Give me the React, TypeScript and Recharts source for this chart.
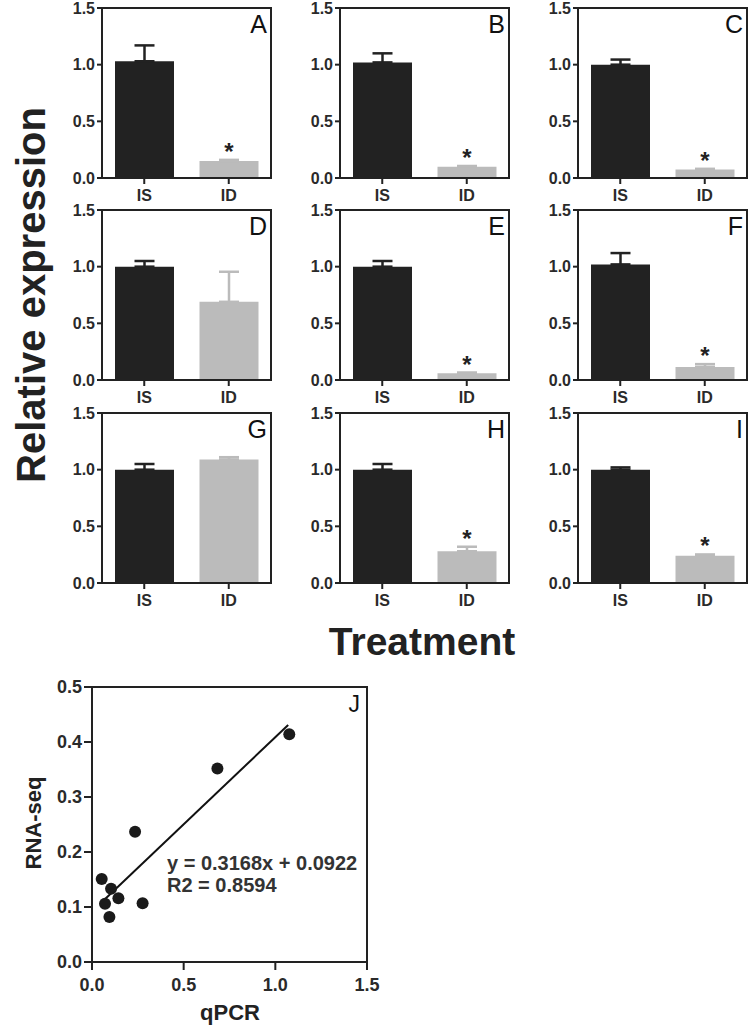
import React from 'react';
import {
  BarChart,
  Bar,
  XAxis,
  YAxis,
  ErrorBar,
  LabelList,
  ScatterChart,
  Scatter,
  ReferenceLine,
  ReferenceArea,
} from 'recharts';

// ---------- Data: panels A–I (relative expression) ----------
const panelLetters = ['A', 'B', 'C', 'D', 'E', 'F', 'G', 'H', 'I'];
const categories = ['IS', 'ID'];
const isMeans = [1.03, 1.02, 1.0, 1.0, 1.0, 1.02, 1.0, 1.0, 1.0];
const isErrors = [0.14, 0.08, 0.045, 0.05, 0.05, 0.1, 0.05, 0.05, 0.02];
const idMeans = [0.15, 0.1, 0.075, 0.69, 0.06, 0.115, 1.09, 0.28, 0.24];
const idErrors = [0.01, 0.006, 0.006, 0.265, 0.006, 0.025, 0.02, 0.04, 0.012];
const significant = [true, true, true, false, true, true, false, true, true];
const barTicks = [0, 0.5, 1.0, 1.5];

// ---------- Data: panel J (qPCR vs RNA-seq) ----------
const qpcrValues = [1.076, 0.684, 0.235, 0.053, 0.104, 0.144, 0.071, 0.276, 0.095];
const rnaseqValues = [0.414, 0.352, 0.237, 0.151, 0.133, 0.116, 0.106, 0.107, 0.082];
const fitLine = [
  { x: 0.07, y: 0.114 },
  { x: 1.07, y: 0.431 },
];
const scatterXTicks = [0, 0.5, 1.0, 1.5];
const scatterYTicks = [0, 0.1, 0.2, 0.3, 0.4, 0.5];
const equationText = 'y = 0.3168x + 0.0922';
const r2Text = 'R2 = 0.8594';

// ---------- Layout ----------
const FONT = "'Liberation Sans', Arial, Helvetica, sans-serif";
const colLefts = [102, 340, 578];
const rowTops = [8, 210, 413];
const letterBaselines = [33, 235, 438];
const plotW = 169;
const plotH = 170;
const AX = '#222';
const DARK = '#222222';
const GREY = '#bbbbbb';

const axisLineStyle = { stroke: AX, strokeWidth: 2 };
const barTickStyle = { fill: '#2a2a2a', fontSize: 16, fontWeight: 'bold', fontFamily: FONT };

function StarLabel(props: any) {
  const { x, y, width, value } = props;
  if (!value) return null;
  return (
    <text
      x={x + width / 2}
      y={y}
      textAnchor="middle"
      fontSize={24}
      fontWeight="bold"
      fontFamily={FONT}
      fill="#222"
    >
      {value}
    </text>
  );
}

function BarPanel({ i }: { i: number }) {
  const data = [
    { cat: categories[0], is: isMeans[i], isErr: [0, isErrors[i]] },
    {
      cat: categories[1],
      id: idMeans[i],
      idErr: [0, idErrors[i]],
      pad: idErrors[i],
      star: significant[i] ? '*' : undefined,
    },
  ];
  const col = i % 3;
  const row = Math.floor(i / 3);
  const left = colLefts[col] - 60;
  const top = rowTops[row] - 10;
  return (
    <div style={{ position: 'absolute', left, top, width: plotW + 70, height: plotH + 45 }}>
      <BarChart
        width={plotW + 70}
        height={plotH + 45}
        data={data}
        margin={{ top: 10, right: 10, bottom: 0, left: 0 }}
        barSize={59}
      >
        <XAxis
          dataKey="cat"
          height={35}
          axisLine={axisLineStyle}
          tickLine={axisLineStyle}
          tickSize={6}
          tickMargin={6}
          tick={barTickStyle}
          interval={0}
        />
        <YAxis
          domain={[0, 1.5]}
          ticks={barTicks}
          width={60}
          axisLine={axisLineStyle}
          tickLine={axisLineStyle}
          tickSize={5}
          tickMargin={2}
          tick={barTickStyle}
          tickFormatter={(v: number) => v.toFixed(1)}
          interval={0}
        />
        <ReferenceArea y1={0} y2={1.5} fill="none" stroke={AX} strokeWidth={2} ifOverflow="visible" />
        <Bar dataKey="is" stackId="s" fill={DARK} isAnimationActive={false}>
          <ErrorBar dataKey="isErr" width={10} stroke={DARK} strokeWidth={2.5} direction="y" />
        </Bar>
        <Bar dataKey="id" stackId="s" fill={GREY} isAnimationActive={false}>
          <ErrorBar dataKey="idErr" width={10} stroke={GREY} strokeWidth={2.5} direction="y" />
        </Bar>
        <Bar dataKey="pad" stackId="s" fill="transparent" isAnimationActive={false}>
          <LabelList dataKey="star" content={StarLabel} />
        </Bar>
      </BarChart>
    </div>
  );
}

const scatterTickStyle = { fill: '#2a2a2a', fontSize: 18, fontWeight: 'bold', fontFamily: FONT };

function ScatterPanel() {
  const data = qpcrValues.map((x, k) => ({ x, y: rnaseqValues[k] }));
  const W = 275 + 70 + 15;
  const H = 275 + 15 + 45;
  return (
    <div style={{ position: 'absolute', left: 92 - 70, top: 687 - 15, width: W, height: H }}>
      <ScatterChart width={W} height={H} margin={{ top: 15, right: 15, bottom: 0, left: 0 }}>
        <XAxis
          type="number"
          dataKey="x"
          domain={[0, 1.5]}
          ticks={scatterXTicks}
          height={45}
          axisLine={axisLineStyle}
          tickLine={axisLineStyle}
          tickSize={8}
          tickMargin={8}
          tick={scatterTickStyle}
          tickFormatter={(v: number) => v.toFixed(1)}
          interval={0}
        />
        <YAxis
          type="number"
          dataKey="y"
          domain={[0, 0.5]}
          ticks={scatterYTicks}
          width={70}
          axisLine={axisLineStyle}
          tickLine={axisLineStyle}
          tickSize={8}
          tickMargin={2}
          tick={scatterTickStyle}
          tickFormatter={(v: number) => v.toFixed(1)}
          interval={0}
        />
        <ReferenceArea
          x1={0}
          x2={1.5}
          y1={0}
          y2={0.5}
          fill="none"
          stroke={AX}
          strokeWidth={2}
          ifOverflow="visible"
        />
        <ReferenceLine segment={fitLine} stroke="#111" strokeWidth={2} ifOverflow="visible" />
        <Scatter
          data={data}
          isAnimationActive={false}
          shape={(p: any) => <circle cx={p.cx} cy={p.cy} r={6} fill="#1a1a1a" />}
        />
      </ScatterChart>
    </div>
  );
}

export default function App() {
  return (
    <div
      style={{
        position: 'absolute',
        left: 0,
        top: 0,
        width: 749,
        height: 1027,
        background: '#fff',
        overflow: 'hidden',
        fontFamily: FONT,
      }}
    >
      {panelLetters.map((_, i) => (
        <BarPanel key={i} i={i} />
      ))}
      <ScatterPanel />
      <svg
        width={749}
        height={1027}
        style={{ position: 'absolute', left: 0, top: 0, pointerEvents: 'none' }}
      >
        {panelLetters.map((L, i) => {
          const col = i % 3;
          const row = Math.floor(i / 3);
          return (
            <text
              key={L}
              x={colLefts[col] + plotW - 4}
              y={letterBaselines[row]}
              textAnchor="end"
              fontSize={25}
              fontFamily={FONT}
              fill="#111"
            >
              {L}
            </text>
          );
        })}
        <text
          transform="translate(45,295) rotate(-90)"
          textAnchor="middle"
          fontSize={40}
          fontWeight="bold"
          fontFamily={FONT}
          fill="#222"
        >
          Relative expression
        </text>
        <text x={422} y={655} textAnchor="middle" fontSize={39} fontWeight="bold" fontFamily={FONT} fill="#222">
          Treatment
        </text>
        <text x={360} y={712} textAnchor="end" fontSize={23} fontFamily={FONT} fill="#111">
          J
        </text>
        <text x={167} y={870} fontSize={20} fontWeight="bold" fontFamily={FONT} fill="#333">
          {equationText}
        </text>
        <text x={167} y={892} fontSize={20} fontWeight="bold" fontFamily={FONT} fill="#333">
          {r2Text}
        </text>
        <text
          transform="translate(41,823) rotate(-90)"
          textAnchor="middle"
          fontSize={22}
          fontWeight="bold"
          fontFamily={FONT}
          fill="#222"
        >
          RNA-seq
        </text>
        <text x={230} y={1020} textAnchor="middle" fontSize={22} fontWeight="bold" fontFamily={FONT} fill="#222">
          qPCR
        </text>
      </svg>
    </div>
  );
}
